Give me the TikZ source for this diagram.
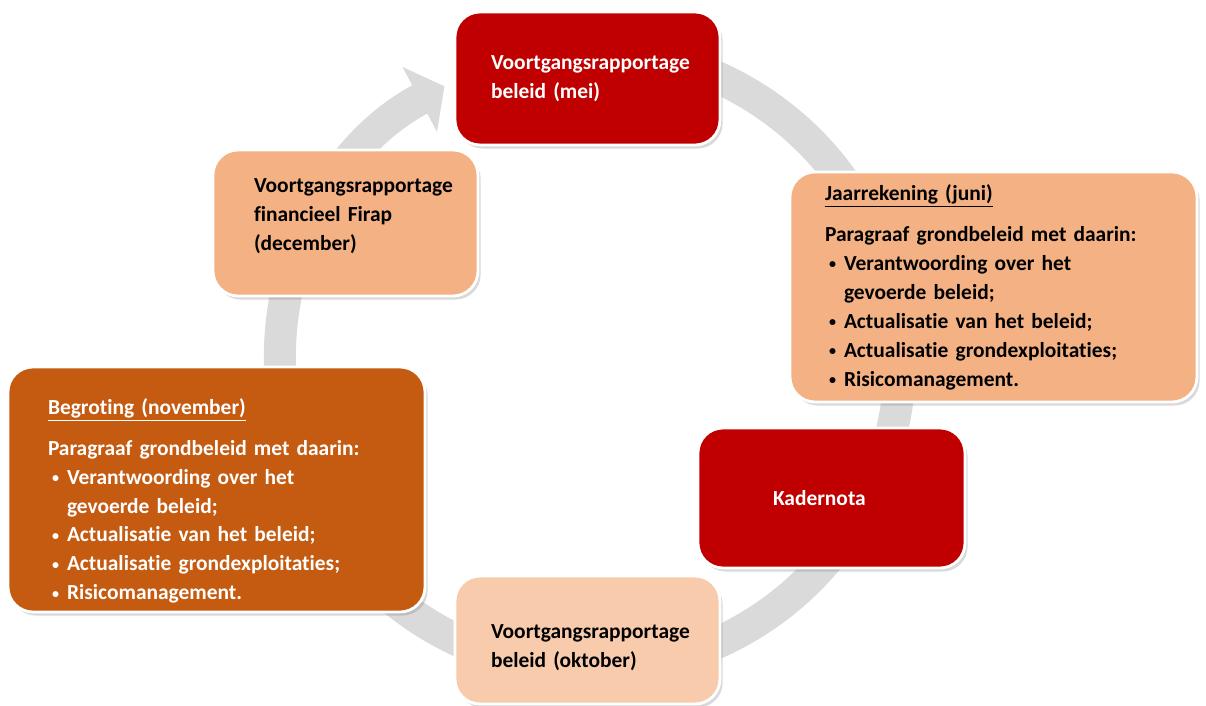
\documentclass[tikz,border=0pt]{standalone}
\usepackage{fontspec}
\setmainfont{Carlito}[Ligatures=NoCommon]
\usetikzlibrary{arrows.meta,shadows}
\definecolor{darkred}{HTML}{C00000}
\definecolor{peach}{HTML}{F4B183}
\definecolor{lightpeach}{HTML}{F8CBAD}
\definecolor{rust}{HTML}{C55A11}
\definecolor{ringgray}{HTML}{DADADA}
\newcommand{\bulletitem}{\makebox[0.38cm][l]{\hspace{0.08cm}\raisebox{0.9pt}{\fontsize{8}{8}\selectfont\textbullet}}}
\newcommand{\bulletcont}{\hspace*{0.38cm}}
\hfuzz=30pt
\hyphenpenalty=10000
\begin{document}
\begin{tikzpicture}
[scale=1,
 stage/.style={rectangle,rounded corners=0.5cm,draw=white,line width=1.6pt,align=left,
   font=\bfseries\fontsize{12.2}{16.5}\selectfont,
   drop shadow={opacity=0.3,shadow xshift=1.5pt,shadow yshift=-2pt}},
 ring/.style={line width=0.64cm,ringgray,-{Triangle[length=0.56cm,width=1.44cm]}}]
\useasboundingbox (0,0) rectangle (24.12,14.12);
\coordinate (hub) at (11.8,6.92);
\path (hub) ++(105:6.2) coordinate (ringstart);
\draw [ring] (ringstart) arc [start angle=105,end angle=-242,radius=6.2];
% boxes of the cycle
\node [stage,fill=darkred,text=white,minimum width=5.3cm,minimum height=2.66cm,text width=3.86cm]
  (mei) at (11.75,12.55) {Voortgangsrapportage\\beleid (mei)};
\node [stage,fill=peach,minimum width=5.3cm,minimum height=2.92cm,text width=3.66cm]
  (firap) at (6.91,9.66) {Voortgangsrapportage\\financieel Firap\\(december)\rule[-0.34cm]{0pt}{0pt}};
\node [stage,fill=peach,minimum width=8.14cm,minimum height=4.6cm,text width=6.74cm]
  (jaar) at (19.87,8.38) {\underline{Jaarrekening (juni)}\\[0.24cm]
  Paragraaf grondbeleid met daarin:\\
  \bulletitem Verantwoording over het\\
  \bulletcont gevoerde beleid;\\
  \bulletitem Actualisatie van het beleid;\\
  \bulletitem Actualisatie grondexploitaties;\\
  \bulletitem Risicomanagement.};
\node [stage,fill=darkred,text=white,minimum width=5.34cm,minimum height=2.8cm,text width=2.34cm]
  (kader) at (16.63,4.16) {Kadernota};
\node [stage,fill=rust,text=white,minimum width=8.34cm,minimum height=4.9cm,text width=6.74cm]
  (begr) at (4.33,4.33) {\rule{0pt}{22pt}\underline{Begroting (november)}\\[0.24cm]
  Paragraaf grondbeleid met daarin:\\
  \bulletitem Verantwoording over het\\
  \bulletcont gevoerde beleid;\\
  \bulletitem Actualisatie van het beleid;\\
  \bulletitem Actualisatie grondexploitaties;\\
  \bulletitem Risicomanagement.};
\node [stage,fill=lightpeach,minimum width=5.3cm,minimum height=2.56cm,text width=3.86cm]
  (okt) at (11.75,1.32) {\rule{0pt}{17pt}Voortgangsrapportage\\beleid (oktober)};
\end{tikzpicture}
\end{document}
